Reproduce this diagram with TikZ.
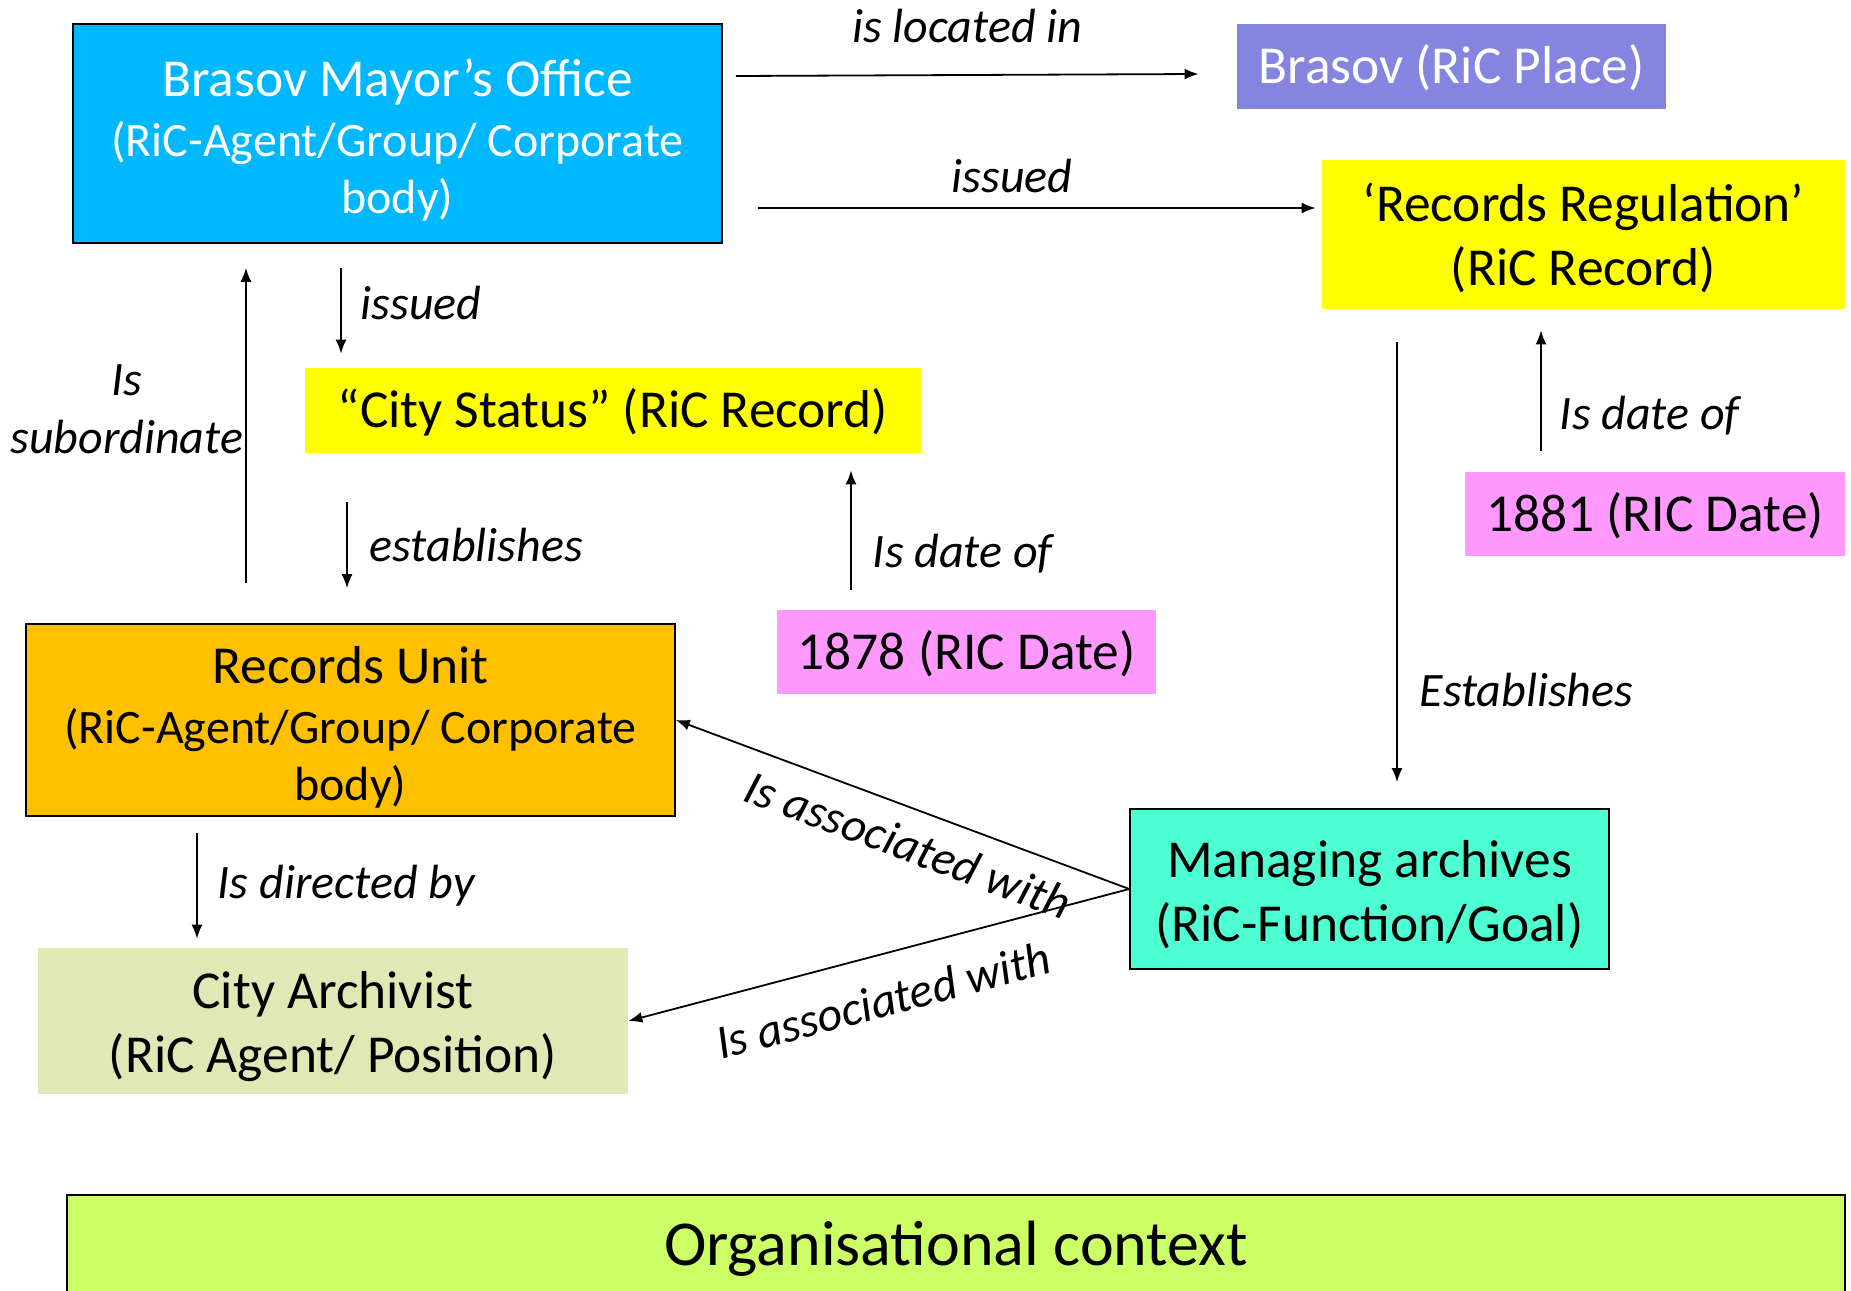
\documentclass[tikz,border=0pt]{standalone}
\usepackage{fontspec}
\setmainfont{Carlito}
\usetikzlibrary{arrows.meta}
\definecolor{mayorblue}{HTML}{00B8FF}
\definecolor{placeblue}{HTML}{8585E0}
\definecolor{recyellow}{HTML}{FFFF00}
\definecolor{datepink}{HTML}{FF99FF}
\definecolor{unitorange}{HTML}{FFC000}
\definecolor{archgreen}{HTML}{E0E8B6}
\definecolor{functeal}{HTML}{4DFFD2}
\definecolor{ctxgreen}{HTML}{CCFF66}
\newcommand{\boxstrut}[1]{\rule{0pt}{#1}}
\newcommand{\bigline}{\fontsize{26.7}{32}\selectfont}
\tikzset{lower/.style={execute at begin node={\boxstrut{#1}}}}
\begin{document}
\begin{tikzpicture}[x=0.5pt,y=-0.5pt]
  \tikzstyle{box}=[inner sep=0pt,align=center,font=\fontsize{26.7}{32}\selectfont]
  \tikzstyle{agent}=[box,font=\fontsize{24}{30}\selectfont]
  \tikzstyle{lined}=[draw=black,line width=0.8pt]
  \tikzstyle{rel}=[draw,line width=0.9pt,->,>={Latex[length=7pt,width=5.5pt]}]
  \tikzstyle{lbl}=[inner sep=0pt,font=\fontsize{24}{28}\selectfont\itshape]
  \useasboundingbox (0,0) rectangle (1851,1290);
  \clip (0,0) rectangle (1851,1290);
  \node[agent,lined,fill=mayorblue,text=white,minimum width=324.5pt,minimum height=109.5pt] (M) at (397.5,133.5) {{\bigline\boxstrut{25.5pt}Brasov Mayor’s Office}\\(RiC-Agent/Group/ Corporate\\[-1.5pt]body)};
  \node[box,lower=21pt,fill=placeblue,text=white,minimum width=214.5pt,minimum height=42.5pt] (P) at (1451.5,66.5) {Brasov (RiC Place)};
  \node[box,fill=recyellow,minimum width=261.5pt,minimum height=74.5pt] (R) at (1583.5,234.5) {\boxstrut{22.5pt}‘Records Regulation’\\(RiC Record)};
  \node[box,lower=21pt,fill=recyellow,minimum width=308pt,minimum height=42.5pt] (S) at (613,410.5) {“City Status” (RiC Record)};
  \node[box,lower=21pt,fill=datepink,minimum width=189.5pt,minimum height=42pt] (D1) at (966.5,652) {1878 (RIC Date)};
  \node[box,lower=21pt,fill=datepink,minimum width=190pt,minimum height=42pt] (D2) at (1655,514) {1881 (RIC Date)};
  \node[agent,lined,fill=unitorange,minimum width=324.5pt,minimum height=96pt] (U) at (350.5,720) {{\bigline\boxstrut{25.5pt}Records Unit}\\(RiC-Agent/Group/ Corporate\\[-1.5pt]body)};
  \node[box,fill=archgreen,minimum width=295pt,minimum height=73pt] (A) at (333,1021) {\boxstrut{24pt}City Archivist\\(RiC Agent/ Position)};
  \node[box,lined,fill=functeal,minimum width=239.5pt,minimum height=80pt] (F) at (1369.5,889) {\boxstrut{24pt}Managing archives\\(RiC-Function/Goal)};
  \node[box,lower=26pt,lined,fill=ctxgreen,minimum width=889pt,minimum height=50pt,font=\fontsize{32}{36}\selectfont] (O) at (956,1245) {Organisational context};
  \path[rel] ([xshift=6.5pt,yshift=28.75pt]M.east) -- node[lbl,midway,yshift=24.5pt]{is located in} ([xshift=-19pt,yshift=-3.75pt]P.west);
  \path[rel] ([xshift=17.5pt,yshift=-37.25pt]M.east) -- node[lbl,midway,xshift=-12.25pt,yshift=16pt]{issued} ([xshift=-3pt,yshift=13.25pt]R.west);
  \path[rel] ([xshift=-28.25pt,yshift=-12pt]M.south) -- node[lbl,midway,right=9.5pt,yshift=3.75pt]{issued} ([xshift=-136pt,yshift=7pt]S.north);
  \path[rel] ([xshift=-52.25pt,yshift=20pt]U.north) -- node[lbl,pos=0.55,left=1pt,align=center,font=\fontsize{24}{29}\selectfont\itshape]{Is\\subordinate} ([xshift=-75.75pt,yshift=-12pt]M.south);
  \path[rel] ([xshift=-133pt,yshift=-24.5pt]S.south) -- node[lbl,midway,right=11pt]{establishes} ([xshift=-1.75pt,yshift=17.5pt]U.north);
  \path[rel] ([xshift=-57.75pt,yshift=10pt]D1.north) -- node[lbl,pos=0.3,right=10.5pt]{Is date of} ([xshift=119pt,yshift=-8.5pt]S.south);
  \path[rel] ([xshift=-57pt,yshift=10.5pt]D2.north) -- node[lbl,pos=0.29,right=9pt]{Is date of} ([xshift=-21.25pt,yshift=-10.5pt]R.south);
  \path[rel] ([xshift=-93.25pt,yshift=-16.5pt]R.south) -- node[lbl,pos=0.79,right=11pt]{Establishes} ([xshift=13.75pt,yshift=13pt]F.north);
  \path[rel] ([xshift=-76.75pt,yshift=-8pt]U.south) -- node[lbl,midway,right=10pt]{Is directed by} ([xshift=-68pt,yshift=4.5pt]A.north);
  \path[rel,<-] (U.east) -- node[lbl,sloped,pos=0.54,below=9pt]{Is associated with} (F.west);
  \path[rel,<-] (A.east) -- node[lbl,sloped,pos=0.486,below=13.5pt]{Is associated with} (F.west);
\end{tikzpicture}
\end{document}
